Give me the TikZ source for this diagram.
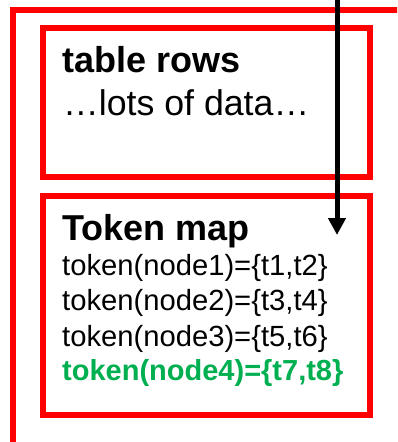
\documentclass[tikz,border=0pt]{standalone}
\usepackage{fontspec}
\setmainfont{Liberation Sans}
\usetikzlibrary{arrows.meta}
\definecolor{okgreen}{RGB}{0,176,80}
\begin{document}
\begin{tikzpicture}[x=1pt,y=-1pt,
  redbox/.style={draw=red,line width=5.5pt,inner sep=0pt},
  title/.style={anchor=base west,inner sep=0pt,font=\fontsize{36}{40}\selectfont\bfseries},
  body/.style={anchor=base west,inner sep=0pt,font=\fontsize{29.2}{36}\selectfont},
  greenline/.style={anchor=base west,inner sep=0pt,text=okgreen,font=\fontsize{29}{36}\selectfont\bfseries}]
\useasboundingbox (0,0) rectangle (397,442);
\clip (0,0) rectangle (397,442);
\fill[white] (0,0) rectangle (397,442);
% outer frame
\coordinate (ob) at (13,445);
\coordinate (oc) at (13,10);
\coordinate (or) at (400,10);
\draw[draw=red,line width=5.5pt] (ob) -- (oc) -- (or);
% boxes
\node[redbox,minimum width=327pt,minimum height=149pt] (rows) at (206.5,102.5) {};
\node[redbox,minimum width=327pt,minimum height=219pt] (tmap) at (206.5,305.5) {};
% texts
\node[title] (t1) at (62,72) {table rows};
\node[body,font=\fontsize{35.7}{40}\selectfont] (t2) at (63,115) {…lots of data…};
\node[title] (t3) at (62,240) {Token map};
\node[body] (l1) at (62,275) {token(node1)=\{t1,t2\}};
\node[body] (l2) at (62,310) {token(node2)=\{t3,t4\}};
\node[body] (l3) at (62,346) {token(node3)=\{t5,t6\}};
\node[greenline] (l4) at (62,380) {token(node4)=\{t7,t8\}};
% arrow
\coordinate (as) at (337,-2);
\coordinate (ae) at (337,235);
\draw[line width=5pt,-{Triangle[width=17pt,length=17pt]}] (as) -- (ae);
\end{tikzpicture}
\end{document}
